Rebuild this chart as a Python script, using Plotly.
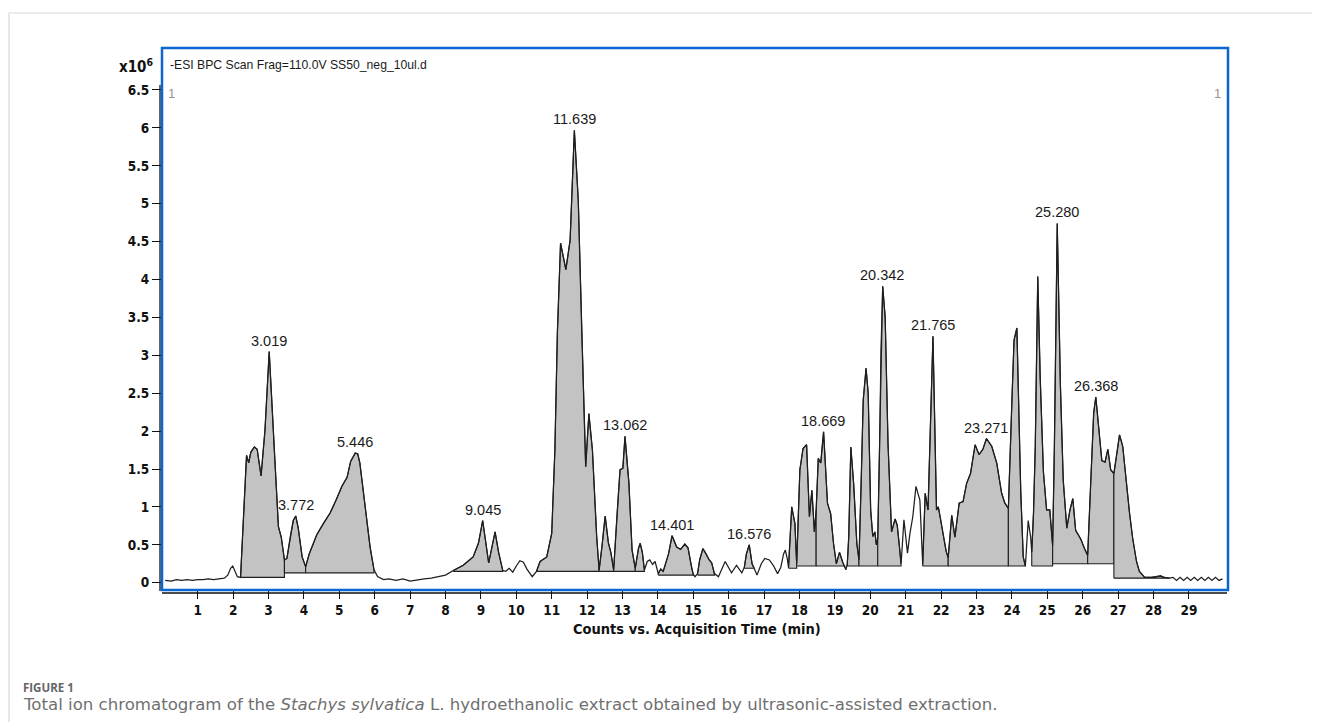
import plotly.graph_objects as go

# ---------------- data ----------------
time_min = [0.08, 0.25, 0.40, 0.55, 0.70, 0.85, 1.00, 1.15, 1.30, 1.45, 1.60, 1.75, 1.85, 1.93, 1.99, 2.06, 2.12,
            2.21, 2.38, 2.44, 2.50, 2.60, 2.68, 2.79, 2.90, 3.02, 3.10, 3.18, 3.28, 3.36, 3.45,
            3.52, 3.62, 3.70, 3.77, 3.84, 3.95, 4.05,
            4.15, 4.36, 4.55, 4.74, 4.90, 5.07, 5.22, 5.32, 5.45, 5.52, 5.58, 5.73, 5.87, 5.98,
            6.08, 6.25, 6.40, 6.60, 6.80, 7.00, 7.20, 7.40, 7.60, 7.80, 8.00,
            8.22, 8.50, 8.78, 8.93, 9.05, 9.22, 9.40, 9.50, 9.62,
            9.70, 9.80, 9.90, 10.00, 10.10, 10.20, 10.30, 10.45,
            10.57, 10.67, 10.86, 11.00, 11.09, 11.16, 11.25, 11.40, 11.52, 11.64, 11.75, 11.85, 11.96, 12.05, 12.15, 12.27, 12.34,
            12.42, 12.51, 12.60, 12.67, 12.75,
            12.84, 12.93, 13.01, 13.07, 13.18, 13.27, 13.36,
            13.45, 13.50, 13.56, 13.62,
            13.70, 13.77, 13.85, 13.92,
            14.01, 14.08, 14.15, 14.30, 14.40, 14.53, 14.64, 14.76, 14.85, 14.95, 15.00,
            15.05, 15.12, 15.18, 15.27, 15.36, 15.45, 15.52, 15.60,
            15.71, 15.90, 16.08, 16.22, 16.37,
            16.44, 16.50, 16.58, 16.66, 16.72,
            16.80, 16.92, 17.02, 17.15, 17.27, 17.38, 17.47, 17.55, 17.60, 17.66,
            17.69, 17.78, 17.87, 17.92,
            18.01, 18.10, 18.20, 18.28, 18.35, 18.42, 18.47,
            18.53, 18.60, 18.68, 18.79, 18.88, 18.96, 19.04, 19.13, 19.22, 19.28,
            19.31, 19.35, 19.39, 19.45, 19.53, 19.62, 19.68,
            19.74, 19.80, 19.88, 19.94, 20.01, 20.07, 20.13, 20.17, 20.21,
            20.26, 20.30, 20.35, 20.42, 20.50, 20.60, 20.70, 20.76, 20.83, 20.87,
            20.95, 21.05, 21.12, 21.20, 21.29, 21.35, 21.40,
            21.48, 21.55, 21.63, 21.77, 21.87, 21.92, 21.97, 22.05, 22.14, 22.20,
            22.30, 22.39, 22.51, 22.62, 22.72, 22.83, 22.96, 23.07, 23.18, 23.28, 23.43, 23.57, 23.71, 23.80, 23.90,
            24.00, 24.06, 24.14, 24.19, 24.25, 24.32, 24.38,
            24.46, 24.53,
            24.56, 24.61, 24.66, 24.73, 24.80, 24.89, 24.98, 25.07, 25.15,
            25.20, 25.28, 25.37, 25.45, 25.55, 25.64, 25.72, 25.80, 25.88, 25.95, 26.05, 26.14,
            26.22, 26.31, 26.37, 26.46, 26.54, 26.63, 26.71, 26.79, 26.88,
            26.95, 27.04, 27.13, 27.22, 27.32, 27.41, 27.52, 27.60, 27.75, 27.95, 28.10, 28.20, 28.30, 28.45,
            28.55, 28.65, 28.75, 28.85, 28.95, 29.05, 29.15, 29.25, 29.35, 29.45, 29.55, 29.65, 29.75, 29.85, 29.95]

counts_1e6 = [0.03, 0.02, 0.04, 0.03, 0.04, 0.03, 0.04, 0.04, 0.05, 0.04, 0.05, 0.06, 0.10, 0.19, 0.22, 0.15, 0.08,
              0.07, 1.68, 1.58, 1.72, 1.79, 1.76, 1.41, 2.01, 3.05, 2.40, 1.62, 0.74, 0.60, 0.30,
              0.32, 0.62, 0.82, 0.88, 0.72, 0.34, 0.21,
              0.38, 0.63, 0.78, 0.92, 1.08, 1.27, 1.39, 1.60, 1.71, 1.70, 1.58, 1.00, 0.47, 0.17,
              0.08, 0.04, 0.05, 0.03, 0.05, 0.02, 0.04, 0.05, 0.06, 0.08, 0.10,
              0.16, 0.23, 0.34, 0.52, 0.82, 0.26, 0.67, 0.40, 0.16,
              0.15, 0.19, 0.14, 0.22, 0.29, 0.27, 0.18, 0.08,
              0.15, 0.28, 0.34, 0.65, 1.75, 3.29, 4.48, 4.13, 4.52, 5.97, 5.05, 3.29, 1.53, 2.23, 1.75, 0.61, 0.17,
              0.48, 0.88, 0.53, 0.40, 0.17,
              0.87, 1.49, 1.51, 1.93, 1.32, 0.43, 0.19,
              0.45, 0.52, 0.40, 0.17,
              0.28, 0.30, 0.24, 0.28,
              0.12, 0.18, 0.15, 0.38, 0.62, 0.47, 0.44, 0.51, 0.46, 0.21, 0.11,
              0.08, 0.12, 0.30, 0.45, 0.38, 0.30, 0.26, 0.12,
              0.08, 0.28, 0.13, 0.23, 0.13,
              0.20, 0.38, 0.50, 0.25, 0.19,
              0.10, 0.25, 0.32, 0.30, 0.22, 0.12, 0.20, 0.38, 0.43, 0.30,
              0.20, 1.00, 0.78, 0.25,
              1.49, 1.77, 1.82, 0.87, 1.22, 0.67, 0.95,
              1.64, 1.58, 1.99, 1.05, 0.91, 0.52, 0.25, 0.40, 0.27, 0.20,
              0.17, 0.25, 0.60, 1.79, 1.30, 0.51, 0.30,
              1.30, 2.41, 2.83, 2.50, 0.96, 0.61, 0.67, 0.50, 0.58,
              1.75, 3.07, 3.91, 3.50, 1.84, 0.67, 0.84, 0.76, 0.45, 0.25,
              0.83, 0.39, 0.65, 0.87, 1.27, 1.15, 1.09,
              0.24, 1.18, 0.96, 3.25, 0.96, 1.00, 0.88, 0.65, 0.42, 0.33,
              0.89, 0.60, 1.05, 1.07, 1.31, 1.44, 1.82, 1.69, 1.76, 1.90, 1.80, 1.58, 1.18, 1.05, 0.98,
              2.40, 3.20, 3.36, 2.40, 1.20, 0.34, 0.22,
              0.82, 0.60,
              0.40, 0.92, 1.80, 4.04, 2.69, 1.46, 0.96, 0.96, 0.49,
              1.80, 4.74, 2.60, 1.35, 0.72, 0.96, 1.11, 0.69, 0.63, 0.57, 0.45, 0.36,
              1.25, 2.24, 2.45, 2.05, 1.61, 1.59, 1.76, 1.49, 1.44,
              1.66, 1.95, 1.80, 1.36, 0.93, 0.59, 0.28, 0.15, 0.07, 0.07, 0.08, 0.09, 0.07, 0.06,
              0.07, 0.03, 0.07, 0.03, 0.07, 0.03, 0.07, 0.03, 0.07, 0.03, 0.07, 0.03, 0.07, 0.03, 0.05]

# integrated peak regions: start, end, baseline level
region_start = [2.21, 3.45, 4.05, 8.22, 10.57, 12.34, 12.75, 13.36, 14.01, 15.12, 16.44, 17.69, 17.92, 18.47,
                19.35, 19.68, 20.21, 21.48, 22.20, 23.90, 24.56, 25.15, 26.14, 26.88]
region_end = [3.45, 4.05, 5.98, 9.62, 12.34, 12.75, 13.36, 13.62, 15.00, 15.60, 16.72, 17.92, 18.47, 19.28,
              19.68, 20.21, 20.87, 22.20, 23.90, 24.38, 25.15, 26.14, 26.88, 28.45]
region_base = [0.07, 0.13, 0.13, 0.15, 0.15, 0.15, 0.15, 0.15, 0.10, 0.10, 0.19, 0.19, 0.22, 0.22,
               0.22, 0.22, 0.22, 0.22, 0.22, 0.22, 0.22, 0.25, 0.25, 0.06]

peak_labels = ["3.019", "3.772", "5.446", "9.045", "11.639", "13.062", "14.401", "16.576",
               "18.669", "20.342", "21.765", "23.271", "25.280", "26.368"]
peak_heights = [3.05, 0.88, 1.71, 0.82, 5.97, 1.93, 0.62, 0.50, 1.99, 3.91, 3.25, 1.90, 4.74, 2.45]

x_ticks = list(range(1, 30))
y_ticks = [0, 0.5, 1, 1.5, 2, 2.5, 3, 3.5, 4, 4.5, 5, 5.5, 6, 6.5]
y_ticktext = ["0", "0.5", "1", "1.5", "2", "2.5", "3", "3.5", "4", "4.5", "5", "5.5", "6", "6.5"]

# ---------------- layout geometry (page pixels) ----------------
OFF = 8                      # page body margin
W, H = 1320 - OFF, 722 - OFF
L, R, T, B = 162, 1228, 48, 590   # plot frame in page coordinates
pw, ph = R - L, B - T


def pxx(X):
    return (X - L) / pw


def pyy(Y):
    return (B - Y) / ph


fig = go.Figure()

# filled integrated regions
for s, e, b in zip(region_start, region_end, region_base):
    seg = [(t, c) for t, c in zip(time_min, counts_1e6) if s - 1e-9 <= t <= e + 1e-9]
    xs = [s] + [p[0] for p in seg] + [e, s]
    ys = [b] + [p[1] for p in seg] + [b, b]
    fig.add_trace(go.Scatter(x=xs, y=ys, mode="lines", fill="toself", fillcolor="#c3c3c3",
                             line=dict(color="#1e1e1e", width=1.1), hoverinfo="skip", showlegend=False))

# chromatogram trace
fig.add_trace(go.Scatter(x=time_min, y=counts_1e6, mode="lines",
                         line=dict(color="#1e1e1e", width=1.25), showlegend=False))

annotations = []
for lab, h in zip(peak_labels, peak_heights):
    annotations.append(dict(x=float(lab), y=h, xref="x", yref="y", text=lab, showarrow=False,
                            yanchor="bottom", xanchor="center", yshift=1,
                            font=dict(family="Liberation Sans, Arial, sans-serif", size=14.5, color="#1a1a1a")))

annotations += [
    dict(x=pxx(168), y=pyy(65), xref="paper", yref="paper", text="-ESI BPC Scan Frag=110.0V SS50_neg_10ul.d",
         showarrow=False, xanchor="left", yanchor="middle",
         font=dict(family="Liberation Sans, Arial, sans-serif", size=12.2, color="#1a1a1a")),
    dict(x=pxx(155), y=pyy(66), xref="paper", yref="paper", text="<b>x10</b><sup><b>6</b></sup>",
         showarrow=False, xanchor="right", yanchor="middle",
         font=dict(family="DejaVu Sans Condensed, sans-serif", size=15, color="#111")),
    dict(x=pxx(166), y=pyy(93), xref="paper", yref="paper", text="1", showarrow=False,
         xanchor="left", yanchor="middle",
         font=dict(family="Liberation Sans, Arial, sans-serif", size=13, color="#a09090")),
    dict(x=pxx(1223), y=pyy(93), xref="paper", yref="paper", text="1", showarrow=False,
         xanchor="right", yanchor="middle",
         font=dict(family="Liberation Sans, Arial, sans-serif", size=13, color="#a09090")),
    dict(x=pxx(697), y=pyy(629), xref="paper", yref="paper", text="<b>Counts vs. Acquisition Time (min)</b>",
         showarrow=False, xanchor="center", yanchor="middle",
         font=dict(family="DejaVu Sans Condensed, sans-serif", size=14.5, color="#111")),
    dict(x=pxx(21), y=pyy(687), xref="paper", yref="paper", text="<b>FIGURE 1</b>", showarrow=False,
         xanchor="left", yanchor="middle",
         font=dict(family="Open Sans, Noto Sans, sans-serif", size=11.5, color="#666666")),
    dict(x=pxx(21), y=pyy(704), xref="paper", yref="paper",
         text="Total ion chromatogram of the <i>Stachys sylvatica</i> L. hydroethanolic extract obtained by ultrasonic-assisted extraction.",
         showarrow=False, xanchor="left", yanchor="middle",
         font=dict(family="DejaVu Sans, sans-serif", size=16.6, color="#707070")),
]

shapes = [
    # page card border
    dict(type="line", xref="paper", yref="paper", x0=pxx(9), x1=pxx(1320), y0=pyy(13), y1=pyy(13),
         line=dict(color="#d8d8d8", width=1.2)),
    dict(type="line", xref="paper", yref="paper", x0=pxx(9), x1=pxx(9), y0=pyy(13), y1=pyy(722),
         line=dict(color="#d8d8d8", width=1.2)),
    # black axis lines
    dict(type="line", xref="paper", yref="paper", x0=pxx(160), x1=pxx(160), y0=pyy(85), y1=pyy(591),
         line=dict(color="#111", width=1.3)),
    dict(type="line", xref="paper", yref="paper", x0=pxx(162), x1=pxx(1227), y0=pyy(593), y1=pyy(593),
         line=dict(color="#111", width=1.3)),
    # blue frame
    dict(type="rect", xref="paper", yref="paper", x0=0, x1=1, y0=0, y1=1,
         line=dict(color="#0a66d0", width=2.5), layer="above"),
]

fig.update_layout(
    width=W, height=H,
    margin=dict(l=L - OFF, r=(W + OFF) - R, t=T - OFF, b=(H + OFF) - B, pad=0),
    paper_bgcolor="white", plot_bgcolor="white",
    showlegend=False,
    annotations=annotations,
    shapes=shapes,
    xaxis=dict(range=[-0.0085, 30.104], showgrid=False, zeroline=False, showline=False,
               tickmode="array", tickvals=x_ticks, ticks="outside", ticklen=8, tickwidth=1.3,
               tickcolor="#111",
               tickfont=dict(family="DejaVu Sans Condensed, sans-serif", size=13.5, color="#111", weight="bold")),
    yaxis=dict(range=[-0.0963, 7.054], showgrid=False, zeroline=False, showline=False,
               tickmode="array", tickvals=y_ticks, ticktext=y_ticktext, ticks="outside", ticklen=9,
               tickwidth=1.3, tickcolor="#111",
               tickfont=dict(family="DejaVu Sans Condensed, sans-serif", size=13.5, color="#111", weight="bold")),
)

fig.write_html("out.html")
